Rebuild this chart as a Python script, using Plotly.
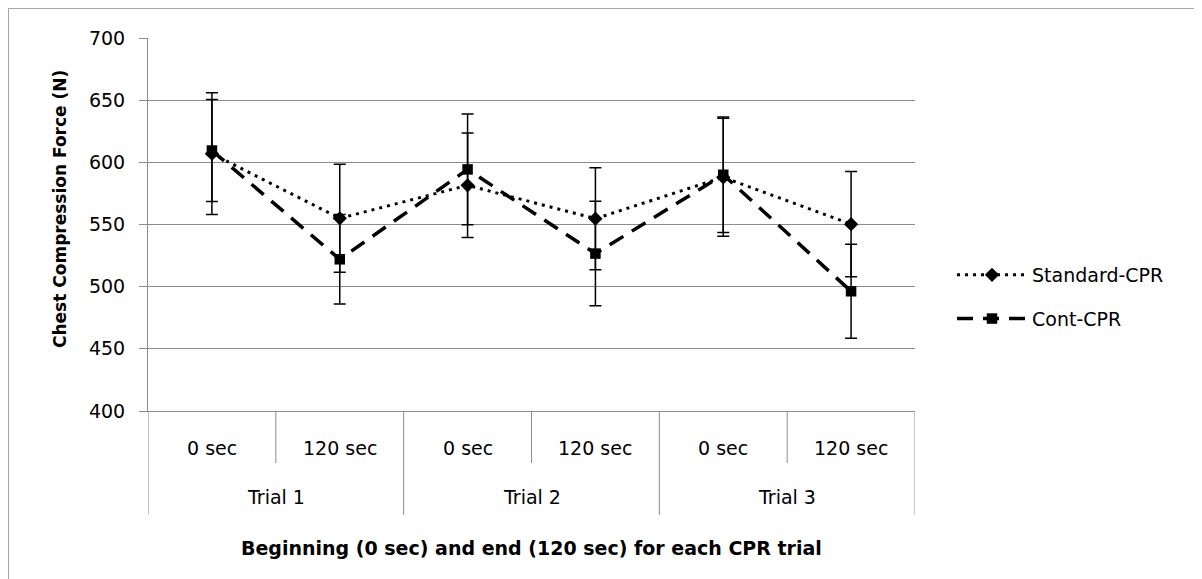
import plotly.graph_objects as go

# ---- data ----
time_labels = ["0 sec", "120 sec", "0 sec", "120 sec", "0 sec", "120 sec"]
trial_labels = ["Trial 1", "Trial 2", "Trial 3"]
x_idx = [0, 1, 2, 3, 4, 5]

standard_mean = [607, 555, 581.5, 554.7, 588, 550.3]
standard_err = [49, 43.5, 42, 41, 47.5, 42.3]
cont_mean = [609.5, 522, 594.3, 526.6, 590, 496.3]
cont_err = [41, 36, 44.5, 42, 46.5, 37.8]

y_title = "Chest Compression Force (N)"
x_title = "Beginning (0 sec) and end (120 sec) for each CPR trial"

FONT = "DejaVu Sans"
GRID = "#8c8c8c"

# page body has an 8px margin; geometry below in screen pixels
OFF = 8
FW, FH = 1194, 571
L, R, T, B = 148, 915, 38, 411   # plot area on screen
W, H = R - L, B - T
def py(p):
    return (B - p) / H
def px(p):
    return (p - L) / W

fig = go.Figure()
fig.add_trace(go.Scatter(
    x=x_idx, y=standard_mean, name="Standard-CPR", mode="lines+markers",
    line=dict(color="black", width=3, dash="3px,5px"),
    marker=dict(symbol="diamond", size=11, color="black"),
    error_y=dict(type="data", array=standard_err, visible=True,
                 color="black", thickness=1.5, width=6),
    legendgroup="a",
))
fig.add_trace(go.Scatter(
    x=x_idx, y=cont_mean, name="Cont-CPR", mode="lines+markers",
    line=dict(color="black", width=3.5, dash="16px,10px"),
    marker=dict(symbol="square", size=10.5, color="black"),
    error_y=dict(type="data", array=cont_err, visible=True,
                 color="black", thickness=1.5, width=6),
    legendgroup="b",
))

shapes = []
# outer chart border
shapes.append(dict(type="rect", xref="paper", yref="paper",
                   x0=px(8.5), x1=px(1230), y0=py(8.5), y1=py(600),
                   line=dict(color="#a6a6a6", width=1), fillcolor="rgba(0,0,0,0)",
                   layer="below"))
# category dividers
for i in range(7):
    long_ = i % 2 == 0
    shapes.append(dict(type="line", xref="x", yref="paper",
                       x0=i - 0.5, x1=i - 0.5, y0=0,
                       y1=py(515) if long_ else py(463),
                       line=dict(color=GRID, width=1)))

annotations = []
for j, t in enumerate(trial_labels):
    annotations.append(dict(x=2 * j + 0.5, xref="x", y=py(497), yref="paper",
                            text=t, showarrow=False,
                            font=dict(family=FONT, size=19, color="black"),
                            xanchor="center", yanchor="middle"))
for i, t in enumerate(time_labels):
    annotations.append(dict(x=i, xref="x", y=py(448), yref="paper",
                            text=t, showarrow=False,
                            font=dict(family=FONT, size=19, color="black"),
                            xanchor="center", yanchor="middle"))
annotations.append(dict(x=0.5, xref="paper", y=py(548), yref="paper",
                        text="<b>" + x_title + "</b>", showarrow=False,
                        font=dict(family=FONT, size=19, color="black"),
                        xanchor="center", yanchor="middle"))
annotations.append(dict(x=px(60), xref="paper", y=py(209), yref="paper",
                        text="<b>" + y_title + "</b>", showarrow=False, textangle=-90,
                        font=dict(family=FONT, size=17, color="black"),
                        xanchor="center", yanchor="middle"))

fig.update_layout(
    width=FW, height=FH,
    margin=dict(l=L - OFF, r=FW - (R - OFF), t=T - OFF, b=FH - (B - OFF), pad=0),
    paper_bgcolor="white", plot_bgcolor="white",
    font=dict(family=FONT, size=19, color="black"),
    showlegend=True,
    legend=dict(x=px(952), xanchor="left", y=py(256), yanchor="top",
                itemwidth=70, tracegroupgap=16,
                font=dict(family=FONT, size=19, color="black"),
                bgcolor="rgba(0,0,0,0)"),
    shapes=shapes, annotations=annotations,
    xaxis=dict(range=[-0.5, 5.5], showgrid=False, zeroline=False,
               showticklabels=False, ticks="", showline=True,
               linecolor=GRID, linewidth=1, fixedrange=True),
    yaxis=dict(range=[400, 700], dtick=50, tick0=400, showgrid=True,
               gridcolor=GRID, gridwidth=1, zeroline=False,
               showline=True, linecolor=GRID, linewidth=1,
               ticks="outside", ticklen=8, tickcolor=GRID,
               ticklabelstandoff=10,
               tickfont=dict(family=FONT, size=19, color="black"),
               fixedrange=True),
)

fig.write_html("out.html")
